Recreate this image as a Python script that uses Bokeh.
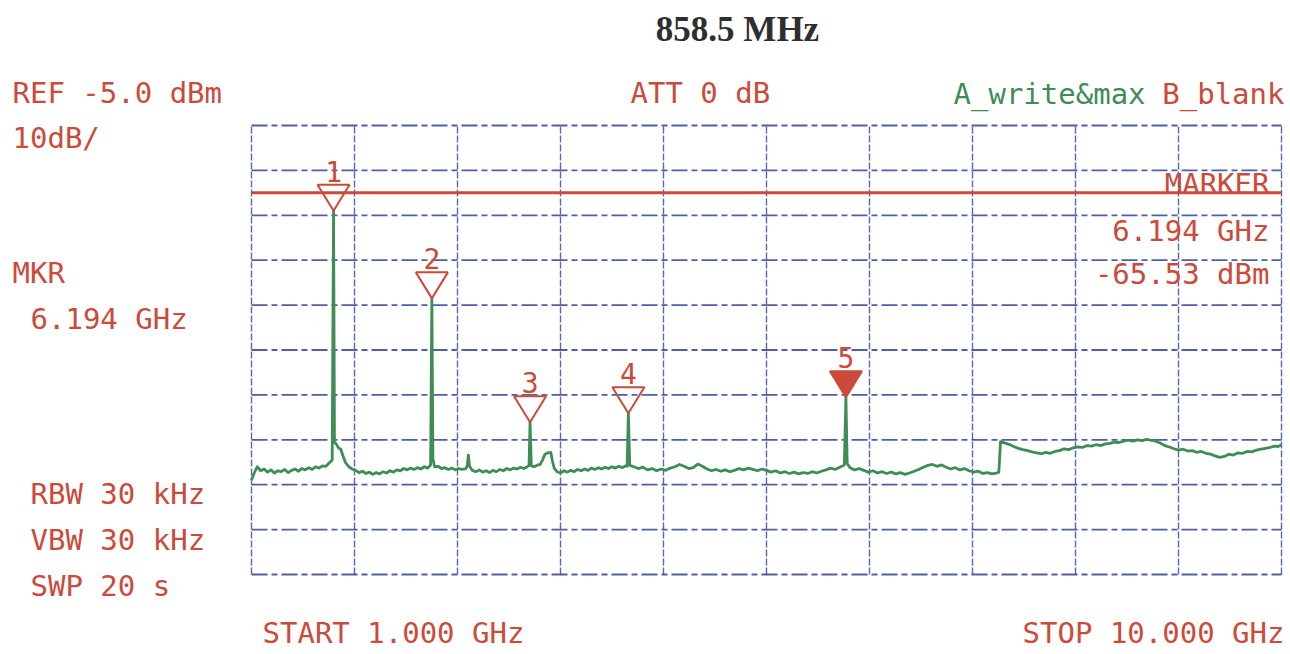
from bokeh.plotting import figure
from bokeh.models import Label, ColumnDataSource, Range1d
from bokeh.core.properties import value
from bokeh.embed import file_html
from bokeh.resources import INLINE

# ---- analyzer settings -------------------------------------------------
title_text = "858.5 MHz"
start_ghz = 1.0
stop_ghz = 10.0
ref_dbm = -5.0
db_per_div = 10.0
n_div = 10
display_line_dbm = -20.0
rbw_khz = 30
vbw_khz = 30
sweep_s = 20

# ---- markers -------------------------------------------------------------
marker_id = ["1", "2", "3", "4", "5"]
marker_ghz = [1.717, 2.576, 3.434, 4.293, 6.194]
marker_dbm = [-24.0, -43.5, -71.1, -69.1, -65.53]
active_marker = 4

# ---- trace A (write & max hold), noise floor readings ----------------------
floor_ghz = [
    1.000, 1.02, 1.05, 1.08, 1.11, 1.14, 1.17, 1.20, 1.23, 1.26, 1.29, 1.32,
    1.35, 1.38, 1.41, 1.44, 1.47, 1.50, 1.53, 1.56, 1.59, 1.62, 1.65, 1.68,
    1.705, 1.725, 1.74, 1.76, 1.78, 1.80, 1.82, 1.85, 1.88, 1.91, 1.94, 1.97,
    2.00, 2.03, 2.06, 2.09, 2.12, 2.15, 2.18, 2.21, 2.24, 2.27, 2.30, 2.33,
    2.36, 2.39, 2.42, 2.45, 2.48, 2.51, 2.54, 2.565, 2.585, 2.60, 2.63, 2.66,
    2.69, 2.72, 2.75, 2.78, 2.81, 2.84, 2.87, 2.885, 2.895, 2.905, 2.93, 2.96,
    2.99, 3.02, 3.05, 3.08, 3.11, 3.14, 3.17, 3.20, 3.23, 3.26, 3.29, 3.32,
    3.35, 3.38, 3.41, 3.425, 3.445, 3.47, 3.50, 3.52, 3.545, 3.565, 3.59, 3.615,
    3.63, 3.645, 3.67, 3.70, 3.73, 3.76, 3.79, 3.82, 3.85, 3.88, 3.91, 3.94,
    3.97, 4.00, 4.03, 4.06, 4.09, 4.12, 4.15, 4.18, 4.21, 4.24, 4.27, 4.282,
    4.305, 4.34, 4.38, 4.42, 4.46, 4.50, 4.54, 4.58, 4.62, 4.66, 4.70, 4.74,
    4.78, 4.82, 4.86, 4.90, 4.94, 4.98, 5.02, 5.06, 5.10, 5.14, 5.18, 5.22,
    5.26, 5.30, 5.34, 5.38, 5.42, 5.46, 5.50, 5.54, 5.58, 5.62, 5.66, 5.70,
    5.74, 5.78, 5.82, 5.86, 5.90, 5.94, 5.98, 6.02, 6.06, 6.10, 6.14, 6.18,
    6.205, 6.23, 6.27, 6.31, 6.35, 6.39, 6.43, 6.47, 6.51, 6.55, 6.59, 6.63,
    6.67, 6.71, 6.75, 6.79, 6.83, 6.87, 6.91, 6.95, 6.99, 7.03, 7.07, 7.11,
    7.15, 7.19, 7.23, 7.27, 7.31, 7.35, 7.39, 7.43, 7.47, 7.51, 7.53, 7.545,
    7.58, 7.62, 7.66, 7.70, 7.74, 7.78, 7.82, 7.86, 7.90, 7.94, 7.98, 8.02,
    8.06, 8.10, 8.14, 8.18, 8.22, 8.26, 8.30, 8.34, 8.38, 8.42, 8.46, 8.50,
    8.54, 8.58, 8.62, 8.66, 8.70, 8.74, 8.78, 8.82, 8.86, 8.90, 8.94, 8.98,
    9.02, 9.06, 9.10, 9.14, 9.18, 9.22, 9.26, 9.30, 9.34, 9.38, 9.42, 9.46,
    9.50, 9.54, 9.58, 9.62, 9.66, 9.70, 9.74, 9.78, 9.82, 9.86, 9.90, 9.94,
    9.97, 10.00,
]
floor_dbm = [
    -84.0, -82.6, -81.0, -81.9, -81.5, -82.2, -81.7, -82.4, -81.9, -82.1, -81.6, -82.3,
    -81.8, -81.5, -82.0, -81.4, -81.7, -81.2, -81.6, -81.0, -81.3, -80.8, -80.9, -80.1,
    -79.5, -75.6, -75.9, -76.8, -77.1, -78.6, -80.0, -81.0, -81.5, -81.8, -82.3, -82.0,
    -82.5, -82.2, -82.7, -82.3, -82.6, -82.1, -82.4, -81.9, -82.2, -81.7, -81.9, -81.4,
    -81.7, -81.3, -81.6, -81.2, -81.5, -81.0, -81.3, -80.6, -79.3, -81.0, -80.9, -81.4,
    -81.2, -81.6, -81.3, -81.7, -81.4, -81.6, -81.5, -80.8, -78.4, -80.9, -81.8, -82.1,
    -81.7, -82.2, -81.9, -82.3, -81.8, -82.1, -81.6, -81.9, -81.4, -81.7, -81.3, -81.5,
    -81.1, -81.4, -81.0, -80.7, -80.8, -81.0, -80.6, -80.6, -79.4, -78.2, -77.9, -77.8,
    -79.8, -81.3, -82.1, -82.4, -81.9, -82.2, -81.8, -82.1, -81.6, -81.9, -81.5, -81.8,
    -81.3, -81.6, -81.2, -81.5, -81.1, -81.4, -81.0, -81.3, -80.9, -81.2, -80.8, -80.9,
    -80.7, -81.0, -81.4, -81.1, -81.7, -81.4, -81.9, -81.5, -81.8, -81.3, -81.0, -80.5,
    -80.9, -81.4, -81.2, -80.4, -80.9, -81.5, -81.9, -81.6, -82.0, -81.7, -82.1, -81.8,
    -81.4, -81.7, -81.3, -81.6, -81.9, -81.5, -81.8, -82.2, -81.9, -82.4, -82.1, -82.5,
    -82.2, -82.6, -82.3, -82.5, -82.1, -82.4, -82.0, -81.7, -81.3, -81.6, -81.1, -80.6,
    -80.3, -81.2, -81.7, -81.4, -81.8, -82.2, -81.9, -82.4, -82.1, -82.5, -82.2, -82.6,
    -82.3, -82.7, -82.4, -82.0, -81.6, -81.1, -80.7, -80.5, -80.9, -80.6, -81.1, -81.5,
    -81.2, -81.7, -81.4, -81.9, -82.2, -82.0, -82.5, -82.3, -82.6, -82.4, -82.2, -75.4,
    -75.7, -76.0, -76.5, -76.9, -77.2, -77.4, -77.7, -77.9, -78.1, -77.8, -78.0, -77.6,
    -77.4, -77.0, -77.2, -76.8, -76.6, -76.7, -76.3, -76.4, -76.1, -76.3, -75.9, -75.8,
    -75.5, -75.6, -75.3, -75.1, -75.3, -75.0, -75.2, -74.9, -75.1, -75.3, -75.7, -76.3,
    -76.6, -77.0, -77.3, -77.1, -77.5, -77.4, -77.8, -77.6, -78.0, -78.2, -78.6, -78.9,
    -78.7, -78.2, -78.4, -77.9, -78.0, -77.6, -77.7, -77.3, -77.1, -76.9, -76.7, -76.4,
    -76.5, -76.1,
]

# ---- page geometry (canvas pixels) ----------------------------------------
W, H = 1290, 654
GRID_L, GRID_R, GRID_T, GRID_B = 251, 1281, 125, 574

bottom_dbm = ref_dbm - n_div * db_per_div
px_per_ghz = (GRID_R - GRID_L) / (stop_ghz - start_ghz)
px_per_db = (GRID_B - GRID_T) / (ref_dbm - bottom_dbm)

x_lo = start_ghz - GRID_L / px_per_ghz
x_hi = stop_ghz + (W - GRID_R) / px_per_ghz
y_hi = ref_dbm + GRID_T / px_per_db
y_lo = bottom_dbm - (H - GRID_B) / px_per_db


def cx(px):
    """canvas x pixel -> frequency axis"""
    return x_lo + px / px_per_ghz


def cy(py):
    """canvas y pixel (from top) -> level axis"""
    return y_hi - py / px_per_db


RED = "#cc4a3a"
GREEN = "#3f8c57"
BLUE = "#2f4398"
MONO = "DejaVu Sans Mono"
FS = "29px"

p = figure(width=W, height=H, x_range=Range1d(x_lo, x_hi), y_range=Range1d(y_lo, y_hi),
           toolbar_location=None, output_backend="svg",
           x_axis_location=None, y_axis_location=None, min_border=0)
p.grid.visible = False
p.outline_line_color = None
p.background_fill_color = "white"
p.border_fill_color = "white"

# ---- graticule --------------------------------------------------------------
v_ticks = [start_ghz + i * (stop_ghz - start_ghz) / n_div for i in range(n_div + 1)]
h_ticks = [bottom_dbm + i * db_per_div for i in range(n_div + 1)]
p.segment(x0=v_ticks, y0=[bottom_dbm] * len(v_ticks), x1=v_ticks, y1=[ref_dbm] * len(v_ticks),
          line_color=BLUE, line_width=1.4, line_dash="7 2", line_alpha=0.8)
p.segment(x0=[start_ghz] * len(h_ticks), y0=h_ticks, x1=[stop_ghz] * len(h_ticks), y1=h_ticks,
          line_color=BLUE, line_width=1.8, line_dash="16 4 6 4", line_alpha=0.85)

# display line
p.line(x=[start_ghz, stop_ghz], y=[display_line_dbm, display_line_dbm],
       line_color=RED, line_width=3)

# ---- trace --------------------------------------------------------------------
pts = sorted(list(zip(floor_ghz, floor_dbm)) + list(zip(marker_ghz, marker_dbm)))
trace = ColumnDataSource(dict(f=[a for a, _ in pts], lvl=[b for _, b in pts]))
p.line("f", "lvl", source=trace, line_color=GREEN, line_width=2.8, line_join="round")

# ---- marker triangles -----------------------------------------------------------
tri_hw = 16 / px_per_ghz
tri_h = 26 / px_per_db
tri_xs = [[f - tri_hw, f + tri_hw, f] for f in marker_ghz]
tri_ys = [[d + tri_h, d + tri_h, d] for d in marker_dbm]
fills = [RED if i == active_marker else "white" for i in range(len(marker_id))]
alphas = [1.0 if i == active_marker else 0.0 for i in range(len(marker_id))]
msrc = ColumnDataSource(dict(xs=tri_xs, ys=tri_ys, fill=fills, fa=alphas,
                             f=marker_ghz, top=[d + tri_h for d in marker_dbm], lab=marker_id))
p.patches("xs", "ys", source=msrc, fill_color="fill", fill_alpha="fa",
          line_color=RED, line_width=2)
p.text("f", "top", text="lab", source=msrc, text_font=value(MONO), text_font_size="28px",
       text_color=RED, text_align="center", text_baseline="bottom", y_offset=-3)

# ---- annotation texts -------------------------------------------------------------
def lab(px, py, text, color=RED, align="left", size=FS, font=MONO, style="normal"):
    p.add_layout(Label(x=cx(px), y=cy(py), text=text, text_color=color, text_align=align,
                       text_baseline="middle", text_font=font, text_font_size=size,
                       text_font_style=style))


lab(737, 29, title_text, color="#2e2e2e", align="center", size="35px",
    font="Liberation Serif", style="bold")
lab(12, 92, f"REF {ref_dbm:.1f} dBm")
lab(12, 137, f"{db_per_div:.0f}dB/")
lab(630, 92, "ATT 0 dB")
lab(953, 93, "A_write&max", color=GREEN)
lab(1284, 93, "B_blank", align="right")
lab(1269, 183, "MARKER", align="right")
lab(1269, 230, f"{marker_ghz[active_marker]:.3f} GHz", align="right")
lab(1269, 273, f"{marker_dbm[active_marker]:.2f} dBm", align="right")
lab(12, 272, "MKR")
lab(30, 318, f"{marker_ghz[active_marker]:.3f} GHz")
lab(30, 493, f"RBW {rbw_khz} kHz")
lab(30, 539, f"VBW {vbw_khz} kHz")
lab(30, 585, f"SWP {sweep_s} s")
lab(262, 632, f"START {start_ghz:.3f} GHz")
lab(1284, 632, f"STOP {stop_ghz:.3f} GHz", align="right")

open("out.html", "w").write(file_html(p, INLINE))
